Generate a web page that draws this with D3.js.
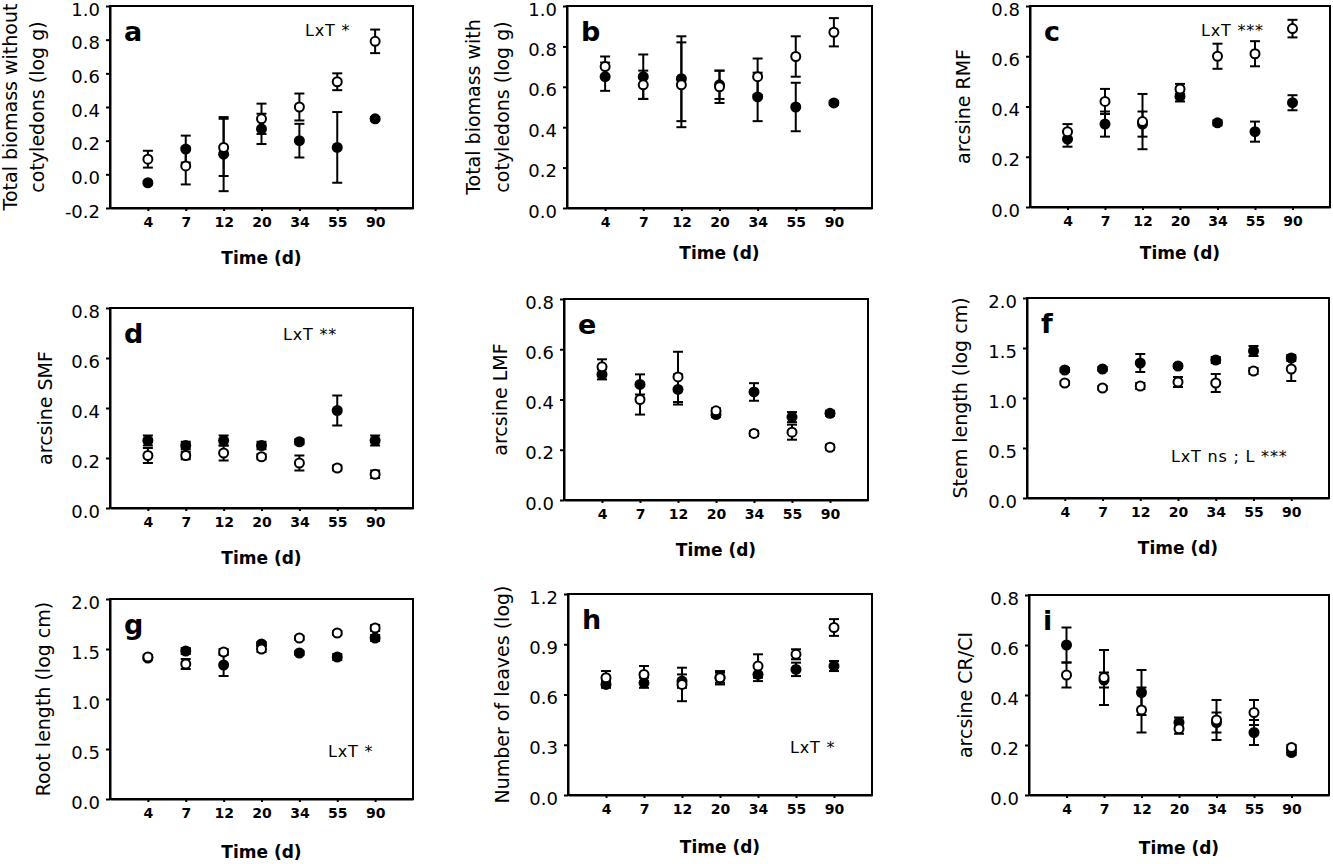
<!DOCTYPE html>
<html>
<head>
<meta charset="utf-8">
<script src="https://cdn.jsdelivr.net/npm/d3@7"></script>
<style>
  body { margin: 0; background: #fff; }
  svg { display: block; }
  text { fill: #000; }
</style>
</head>
<body>
<div class="svgContainer"></div>
<script>
/* sampling times (days), shared by every panel */
var times = ["4", "7", "12", "20", "34", "55", "90"];

/* a) total biomass without cotyledons */
var aFilled = [-0.05, 0.15, 0.12, 0.27, 0.20, 0.16, 0.33];
var aFilledErr = [0.01, 0.08, 0.22, 0.09, 0.10, 0.21, 0.01];
var aOpen = [0.09, 0.05, 0.16, 0.33, 0.40, 0.55, 0.79];
var aOpenErr = [0.05, 0.11, 0.17, 0.09, 0.08, 0.05, 0.07];
var aTicks = [-0.2, 0.0, 0.2, 0.4, 0.6, 0.8, 1.0];

/* b) total biomass with cotyledons */
var bFilled = [0.65, 0.65, 0.64, 0.61, 0.55, 0.50, 0.52];
var bFilledErr = [0.07, 0.11, 0.21, 0.07, 0.12, 0.12, 0.01];
var bOpen = [0.70, 0.61, 0.61, 0.60, 0.65, 0.75, 0.87];
var bOpenErr = [0.05, 0.07, 0.21, 0.08, 0.09, 0.10, 0.07];
var bTicks = [0.0, 0.2, 0.4, 0.6, 0.8, 1.0];

/* c) arcsine RMF */
var cFilled = [0.27, 0.33, 0.33, 0.44, 0.335, 0.30, 0.415];
var cFilledErr = [0.03, 0.05, 0.05, 0.02, 0.01, 0.04, 0.03];
var cOpen = [0.30, 0.42, 0.34, 0.47, 0.60, 0.61, 0.71];
var cOpenErr = [0.03, 0.05, 0.11, 0.02, 0.05, 0.05, 0.035];
var cTicks = [0.0, 0.2, 0.4, 0.6, 0.8];

/* d) arcsine SMF */
var dFilled = [0.27, 0.25, 0.27, 0.25, 0.265, 0.39, 0.27];
var dFilledErr = [0.02, 0.015, 0.02, 0.015, 0.01, 0.06, 0.02];
var dOpen = [0.21, 0.21, 0.22, 0.205, 0.18, 0.16, 0.135];
var dOpenErr = [0.03, 0.015, 0.03, 0.01, 0.03, 0.01, 0.015];
var dTicks = [0.0, 0.2, 0.4, 0.6, 0.8];

/* e) arcsine LMF */
var eFilled = [0.50, 0.46, 0.44, 0.34, 0.43, 0.33, 0.345];
var eFilledErr = [0.02, 0.04, 0.06, 0.01, 0.035, 0.02, 0.01];
var eOpen = [0.53, 0.40, 0.49, 0.355, 0.265, 0.27, 0.21];
var eOpenErr = [0.03, 0.06, 0.10, 0.01, 0.01, 0.03, 0.01];
var eTicks = [0.0, 0.2, 0.4, 0.6, 0.8];

/* f) stem length */
var fFilled = [1.28, 1.29, 1.35, 1.32, 1.38, 1.47, 1.40];
var fFilledErr = [0.02, 0.02, 0.09, 0.02, 0.03, 0.05, 0.03];
var fOpen = [1.15, 1.10, 1.12, 1.16, 1.15, 1.27, 1.29];
var fOpenErr = [0.02, 0.02, 0.03, 0.05, 0.09, 0.03, 0.12];
var fTicks = [0.0, 0.5, 1.0, 1.5, 2.0];

/* g) root length */
var gFilled = [1.41, 1.48, 1.34, 1.55, 1.46, 1.42, 1.61];
var gFilledErr = [0.02, 0.03, 0.11, 0.02, 0.02, 0.03, 0.03];
var gOpen = [1.42, 1.35, 1.47, 1.50, 1.61, 1.66, 1.71];
var gOpenErr = [0.02, 0.05, 0.03, 0.03, 0.02, 0.02, 0.03];
var gTicks = [0.0, 0.5, 1.0, 1.5, 2.0];

/* h) number of leaves */
var hFilled = [0.66, 0.67, 0.68, 0.70, 0.72, 0.75, 0.77];
var hFilledErr = [0.02, 0.03, 0.04, 0.03, 0.04, 0.04, 0.03];
var hOpen = [0.70, 0.72, 0.66, 0.70, 0.77, 0.84, 1.00];
var hOpenErr = [0.04, 0.05, 0.10, 0.04, 0.07, 0.03, 0.05];
var hTicks = [0.0, 0.3, 0.6, 0.9, 1.2];

/* i) arcsine CR/CI */
var iFilled = [0.60, 0.46, 0.41, 0.29, 0.29, 0.25, 0.17];
var iFilledErr = [0.07, 0.03, 0.09, 0.02, 0.04, 0.05, 0.01];
var iOpen = [0.48, 0.47, 0.34, 0.265, 0.30, 0.33, 0.19];
var iOpenErr = [0.05, 0.11, 0.09, 0.02, 0.08, 0.05, 0.01];
var iTicks = [0.0, 0.2, 0.4, 0.6, 0.8];

/* panel layout: box corners, titles, annotation placement */
var panels = [
  {id: "a", x0: 110, x1: 413, y0: 6, y1: 208, ticks: aTicks, filled: aFilled, filledErr: aFilledErr, open: aOpen, openErr: aOpenErr,
   title: ["Total biomass without", "cotyledons (log g)"], titleX: [-100, -73], note: "LxT *", noteX: 195, noteY: 30, timeDy: 56},
  {id: "b", x0: 567, x1: 872, y0: 6, y1: 208, ticks: bTicks, filled: bFilled, filledErr: bFilledErr, open: bOpen, openErr: bOpenErr,
   title: ["Total biomass with", "cotyledons (log g)"], titleX: [-94, -65], note: "", timeDy: 51},
  {id: "c", x0: 1030, x1: 1330, y0: 6, y1: 207, ticks: cTicks, filled: cFilled, filledErr: cFilledErr, open: cOpen, openErr: cOpenErr,
   title: ["arcsine RMF"], titleX: [-67], note: "LxT ***", noteX: 171, noteY: 30, timeDy: 52},
  {id: "d", x0: 110, x1: 413, y0: 308, y1: 508, ticks: dTicks, filled: dFilled, filledErr: dFilledErr, open: dOpen, openErr: dOpenErr,
   title: ["arcsine SMF"], titleX: [-65], note: "LxT **", noteX: 173, noteY: 32, timeDy: 56},
  {id: "e", x0: 564, x1: 868, y0: 299, y1: 500, ticks: eTicks, filled: eFilled, filledErr: eFilledErr, open: eOpen, openErr: eOpenErr,
   title: ["arcsine LMF"], titleX: [-64], note: "", timeDy: 56},
  {id: "f", x0: 1027, x1: 1329, y0: 298, y1: 498, ticks: fTicks, filled: fFilled, filledErr: fFilledErr, open: fOpen, openErr: fOpenErr,
   title: ["Stem length (log cm)"], titleX: [-67], note: "LxT ns ; L ***", noteX: 144, noteY: 164, timeDy: 56},
  {id: "g", x0: 110, x1: 413, y0: 599, y1: 799, ticks: gTicks, filled: gFilled, filledErr: gFilledErr, open: gOpen, openErr: gOpenErr,
   title: ["Root length (log cm)"], titleX: [-67], note: "LxT *", noteX: 218, noteY: 158, timeDy: 59},
  {id: "h", x0: 568, x1: 872, y0: 594, y1: 795, ticks: hTicks, filled: hFilled, filledErr: hFilledErr, open: hOpen, openErr: hOpenErr,
   title: ["Number of leaves (log)"], titleX: [-66], note: "LxT *", noteX: 222, noteY: 159, timeDy: 58},
  {id: "i", x0: 1029, x1: 1329, y0: 595, y1: 795, ticks: iTicks, filled: iFilled, filledErr: iFilledErr, open: iOpen, openErr: iOpenErr,
   title: ["arcsine CR/CI"], titleX: [-64], note: "", timeDy: 59}
];

var canvas_width = 1333,
    canvas_height = 864;

var svg = d3.select(".svgContainer")
  .append("svg")
    .attr("width", canvas_width)
    .attr("height", canvas_height);

function drawPanel(p) {
  var g = svg.append("g").attr("id", "panel-" + p.id);

  /* categorical x, one empty slot at each end */
  var x = d3.scalePoint()
      .domain(times)
      .range([p.x0, p.x1])
      .padding(1);

  var y = d3.scaleLinear()
      .domain([p.ticks[0], p.ticks[p.ticks.length - 1]])
      .range([p.y1, p.y0]);

  /* frame */
  g.append("rect")
    .attr("x", p.x0)
    .attr("y", p.y0)
    .attr("width", p.x1 - p.x0)
    .attr("height", p.y1 - p.y0)
    .attr("fill", "none")
    .attr("stroke", "#000")
    .attr("stroke-width", 2);

  /* y axis (labels sit a little below their ticks, as in the original) */
  var yAxis = d3.axisLeft(y)
      .tickValues(p.ticks)
      .tickSizeInner(4)
      .tickSizeOuter(0)
      .tickPadding(6)
      .tickFormat(function(d) { return d.toFixed(1); });
  var ya = g.append("g")
    .attr("transform", "translate(" + p.x0 + ",0)")
    .call(yAxis);
  ya.select(".domain").attr("stroke-width", 2);
  ya.selectAll(".tick line").attr("stroke-width", 2);
  ya.selectAll(".tick text")
    .attr("dy", "0.5em")
    .attr("font-family", "DejaVu Sans")
    .attr("font-size", 18)
    .attr("fill", "#000");

  /* x axis */
  var xAxis = d3.axisBottom(x)
      .tickSizeInner(3)
      .tickSizeOuter(0)
      .tickPadding(6);
  var xa = g.append("g")
    .attr("transform", "translate(0," + p.y1 + ")")
    .call(xAxis);
  xa.select(".domain").attr("stroke-width", 2);
  xa.selectAll(".tick line").attr("stroke-width", 2);
  xa.selectAll(".tick text")
    .attr("font-family", "DejaVu Sans")
    .attr("font-weight", "bold")
    .attr("font-size", 14)
    .attr("fill", "#000");

  /* axis titles */
  g.append("text")
    .attr("x", (p.x0 + p.x1) / 2)
    .attr("y", p.y1 + p.timeDy)
    .attr("text-anchor", "middle")
    .attr("font-family", "DejaVu Sans")
    .attr("font-weight", "bold")
    .attr("font-size", 17)
    .text("Time (d)");

  var ymid = (p.y0 + p.y1) / 2;
  p.title.forEach(function(line, k) {
    var tx = p.x0 + p.titleX[k] + 7;
    g.append("text")
      .attr("transform", "translate(" + tx + "," + ymid + ") rotate(-90)")
      .attr("text-anchor", "middle")
      .attr("font-family", "DejaVu Sans")
      .attr("font-size", 19)
      .text(line);
  });

  /* panel letter and significance note */
  g.append("text")
    .attr("x", p.x0 + 14)
    .attr("y", p.y0 + 35)
    .attr("font-family", "DejaVu Sans")
    .attr("font-weight", "bold")
    .attr("font-size", 27)
    .text(p.id);

  if (p.note) {
    g.append("text")
      .attr("x", p.x0 + p.noteX)
      .attr("y", p.y0 + p.noteY)
      .attr("font-family", "DejaVu Sans")
      .attr("font-size", 16)
      .attr("letter-spacing", 0.8)
      .text(p.note);
  }

  /* both series: filled first, open drawn over it */
  var series = [
    {vals: p.filled, errs: p.filledErr, fill: "#000"},
    {vals: p.open, errs: p.openErr, fill: "#fff"}
  ];

  var bars = g.append("g").attr("class", "errorbars");
  series.forEach(function(s) {
    s.vals.forEach(function(v, i) {
      var cx = x(times[i]);
      var top = y(v + s.errs[i]),
          bot = y(v - s.errs[i]);
      bars.append("line")
        .attr("x1", cx).attr("x2", cx)
        .attr("y1", top).attr("y2", bot)
        .attr("stroke", "#000").attr("stroke-width", 2);
      [top, bot].forEach(function(cy) {
        bars.append("line")
          .attr("x1", cx - 5).attr("x2", cx + 5)
          .attr("y1", cy).attr("y2", cy)
          .attr("stroke", "#000").attr("stroke-width", 2);
      });
    });
  });

  series.forEach(function(s) {
    g.append("g")
      .selectAll("circle")
      .data(s.vals)
      .enter()
        .append("circle")
          .attr("cx", function(d, i) { return x(times[i]); })
          .attr("cy", function(d) { return y(d); })
          .attr("r", s.fill === "#000" ? 5.5 : 4.5)
          .attr("fill", s.fill)
          .attr("stroke", "#000")
          .attr("stroke-width", s.fill === "#000" ? 0 : 2);
  });
}

panels.forEach(drawPanel);
</script>
</body>
</html>
